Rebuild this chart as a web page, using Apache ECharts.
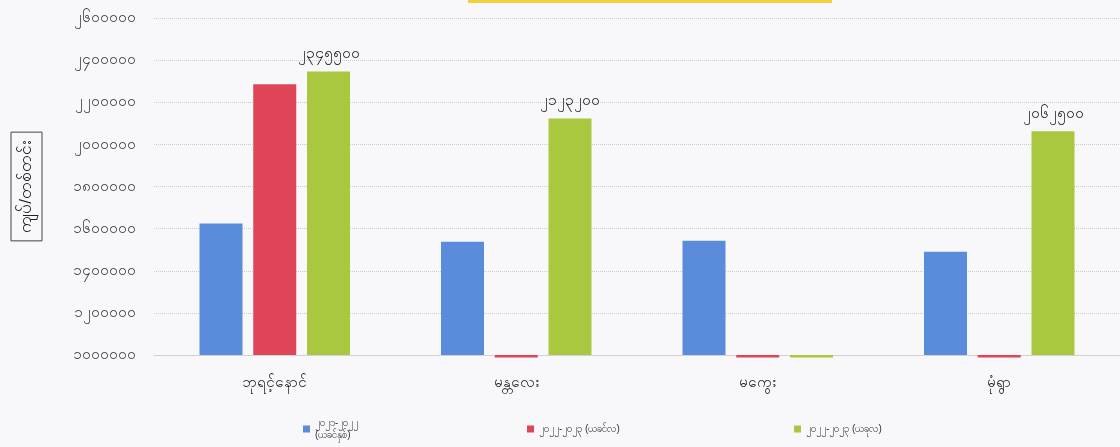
<!DOCTYPE html>
<html>
<head>
<meta charset="utf-8">
<script src="https://cdn.jsdelivr.net/npm/echarts@6/dist/echarts.min.js"></script>
<style>
html,body{margin:0;padding:0;background:#f8f8fa;}
#c{width:1120px;height:447px;}
</style>
</head>
<body>
<div id="c"></div>
<script>
var categories = ['ဘုရင့်နောင်', 'မန္တလေး', 'မကွေး', 'မုံရွာ'];
var seriesNames = ['၂၀၂၁-၂၀၂၂\n(ယခင်နှစ်)', '၂၀၂၂-၂၀၂၃ (ယခင်လ)', '၂၀၂၂-၂၀၂၃ (ယခုလ)'];
var prevYear = [1624000, 1538000, 1543000, 1490000];
var prevMonth = [2286000, 988000, 988000, 988000];
var thisMonth = [2345500, 2123200, 988000, 2062500];
var thisMonthLabels = ['၂၃၄၅၅၀၀', '၂၁၂၃၂၀၀', '', '၂၀၆၂၅၀၀'];
var yTickValues = [1000000, 1200000, 1400000, 1600000, 1800000, 2000000, 2200000, 2400000, 2600000];
var yTickLabels = ['၁၀၀၀၀၀၀', '၁၂၀၀၀၀၀', '၁၄၀၀၀၀၀', '၁၆၀၀၀၀၀', '၁၈၀၀၀၀၀', '၂၀၀၀၀၀၀', '၂၂၀၀၀၀၀', '၂၄၀၀၀၀၀', '၂၆၀၀၀၀၀'];
var yAxisName = 'ကျပ်/တစ်တင်း';

// the value axis starts at 1,000,000: bars are measured from that baseline
var AXIS_BASE = yTickValues[0];
var AXIS_TOP = yTickValues[yTickValues.length - 1];
var AXIS_STEP = yTickValues[1] - yTickValues[0];
function fromBase(arr){ return arr.map(function(v){ return v - AXIS_BASE; }); }

var colors = ['#5b8bdb', '#de4658', '#a9c83f'];
var chart = echarts.init(document.getElementById('c'));
function legendFor(i, left, top){
  return {data:[seriesNames[i]], left:left, top:top, itemWidth:7, itemHeight:7, icon:'rect', itemGap:4,
    textStyle:{fontSize:10, color:'#333', lineHeight:12}};
}
chart.setOption({
  backgroundColor:'#f8f8fa',
  color: colors,
  animation:false,
  legend:[legendFor(0, 298, 412), legendFor(1, 522, 418), legendFor(2, 789, 418)],
  graphic:[{type:'rect', shape:{x:468, y:0, width:364, height:3}, style:{fill:'#f2d23c'}}],
  grid:{left:154, right:-1, top:18, bottom:92, containLabel:false},
  xAxis:{type:'category', data:categories,
    axisLine:{show:true, lineStyle:{color:'#d0d0d6', width:1}}, axisTick:{show:false},
    axisLabel:{fontSize:15, color:'#222', margin:20}},
  yAxis:{type:'value', min:0, max:AXIS_TOP - AXIS_BASE, interval:AXIS_STEP,
    name:yAxisName, nameLocation:'middle', nameRotate:90, nameGap:112,
    nameTextStyle:{fontSize:17, color:'#222', borderColor:'#444', borderWidth:1, padding:[7,8,7,8]},
    axisLine:{show:false}, axisTick:{show:false},
    axisLabel:{fontSize:15, color:'#333', margin:18, formatter:function(v){
      var i = yTickValues.indexOf(v + AXIS_BASE); return i >= 0 ? yTickLabels[i] : '';}},
    splitLine:{lineStyle:{color:'#cfc9d0', type:'dotted', width:1}}},
  series:[
    {name:seriesNames[0], type:'bar', data:fromBase(prevYear), barWidth:43, barGap:'25%', clip:false},
    {name:seriesNames[1], type:'bar', data:fromBase(prevMonth), barWidth:43, barGap:'25%', clip:false},
    {name:seriesNames[2], type:'bar', data:fromBase(thisMonth), barWidth:43, barGap:'25%', clip:false,
      label:{show:true, position:'top', distance:10, fontSize:16, color:'#222',
        formatter:function(p){return thisMonthLabels[p.dataIndex];}}}
  ]
});
</script>
</body>
</html>
